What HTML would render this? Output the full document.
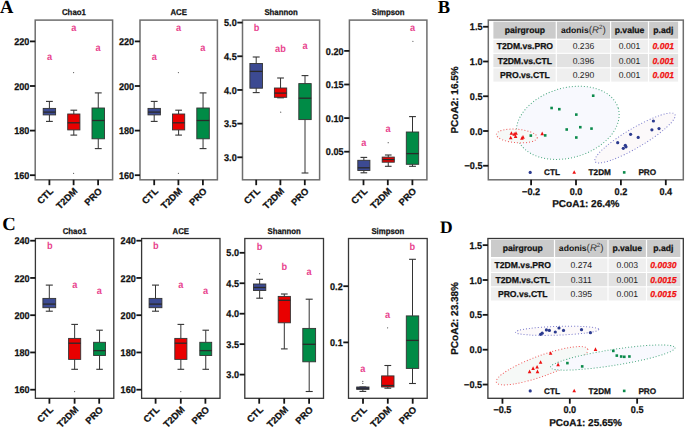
<!DOCTYPE html>
<html><head><meta charset="utf-8"><style>
html,body{margin:0;padding:0;background:#fff;width:685px;height:428px;overflow:hidden}
svg{display:block}
text{text-rendering:geometricPrecision}
</style></head><body>
<svg width="685" height="428" viewBox="0 0 685 428">
<rect width="685" height="428" fill="#fff"/>
<rect x="35.20" y="20.10" width="77.40" height="159.70" fill="none" stroke="#6e6e6e" stroke-width="1.5"/>
<text transform="translate(73.90 14.90) scale(0.93 1)" font-family="Liberation Sans" font-size="8.4" font-weight="bold" fill="#111" text-anchor="middle" stroke="#111" stroke-width="0.25" >Chao1</text>
<line x1="30.00" y1="41.40" x2="35.20" y2="41.40" stroke="#151515" stroke-width="1.8" />
<text transform="translate(29.40 45.00) scale(0.93 1)" font-family="Liberation Sans" font-size="9.8" font-weight="bold" fill="#111" text-anchor="end" stroke="#111" stroke-width="0.25" >220</text>
<line x1="30.00" y1="86.00" x2="35.20" y2="86.00" stroke="#151515" stroke-width="1.8" />
<text transform="translate(29.40 89.60) scale(0.93 1)" font-family="Liberation Sans" font-size="9.8" font-weight="bold" fill="#111" text-anchor="end" stroke="#111" stroke-width="0.25" >200</text>
<line x1="30.00" y1="130.60" x2="35.20" y2="130.60" stroke="#151515" stroke-width="1.8" />
<text transform="translate(29.40 134.20) scale(0.93 1)" font-family="Liberation Sans" font-size="9.8" font-weight="bold" fill="#111" text-anchor="end" stroke="#111" stroke-width="0.25" >180</text>
<line x1="30.00" y1="175.20" x2="35.20" y2="175.20" stroke="#151515" stroke-width="1.8" />
<text transform="translate(29.40 178.80) scale(0.93 1)" font-family="Liberation Sans" font-size="9.8" font-weight="bold" fill="#111" text-anchor="end" stroke="#111" stroke-width="0.25" >160</text>
<line x1="49.40" y1="179.80" x2="49.40" y2="185.20" stroke="#151515" stroke-width="1.8" />
<text transform="translate(53.90 191.80) rotate(-45)" font-family="Liberation Sans" font-size="9.4" font-weight="bold" fill="#111" text-anchor="end" stroke="#111" stroke-width="0.25" >CTL</text>
<line x1="73.60" y1="179.80" x2="73.60" y2="185.20" stroke="#151515" stroke-width="1.8" />
<text transform="translate(78.10 191.80) rotate(-45)" font-family="Liberation Sans" font-size="9.4" font-weight="bold" fill="#111" text-anchor="end" stroke="#111" stroke-width="0.25" >T2DM</text>
<line x1="98.10" y1="179.80" x2="98.10" y2="185.20" stroke="#151515" stroke-width="1.8" />
<text transform="translate(102.60 191.80) rotate(-45)" font-family="Liberation Sans" font-size="9.4" font-weight="bold" fill="#111" text-anchor="end" stroke="#111" stroke-width="0.25" >PRO</text>
<line x1="49.40" y1="101.40" x2="49.40" y2="108.40" stroke="#333" stroke-width="1.0" />
<line x1="49.40" y1="114.90" x2="49.40" y2="121.40" stroke="#333" stroke-width="1.0" />
<line x1="45.99" y1="101.40" x2="52.81" y2="101.40" stroke="#333" stroke-width="1.1" />
<line x1="45.99" y1="121.40" x2="52.81" y2="121.40" stroke="#333" stroke-width="1.1" />
<rect x="43.20" y="108.40" width="12.40" height="6.50" fill="#3c4a92" stroke="#333" stroke-width="0.9"/>
<line x1="43.20" y1="112.10" x2="55.60" y2="112.10" stroke="#2a2a2a" stroke-width="1.3" />
<line x1="73.80" y1="110.20" x2="73.80" y2="114.00" stroke="#333" stroke-width="1.0" />
<line x1="73.80" y1="129.90" x2="73.80" y2="135.10" stroke="#333" stroke-width="1.0" />
<line x1="70.45" y1="110.20" x2="77.16" y2="110.20" stroke="#333" stroke-width="1.1" />
<line x1="70.45" y1="135.10" x2="77.16" y2="135.10" stroke="#333" stroke-width="1.1" />
<rect x="67.70" y="114.00" width="12.20" height="15.90" fill="#e90000" stroke="#333" stroke-width="0.9"/>
<line x1="67.70" y1="122.80" x2="79.90" y2="122.80" stroke="#2a2a2a" stroke-width="1.3" />
<circle cx="73.60" cy="72.60" r="0.6" fill="#555"/>
<circle cx="73.60" cy="173.30" r="0.6" fill="#555"/>
<line x1="98.25" y1="92.90" x2="98.25" y2="108.00" stroke="#333" stroke-width="1.0" />
<line x1="98.25" y1="138.80" x2="98.25" y2="148.60" stroke="#333" stroke-width="1.0" />
<line x1="94.81" y1="92.90" x2="101.69" y2="92.90" stroke="#333" stroke-width="1.1" />
<line x1="94.81" y1="148.60" x2="101.69" y2="148.60" stroke="#333" stroke-width="1.1" />
<rect x="92.00" y="108.00" width="12.50" height="30.80" fill="#008b46" stroke="#333" stroke-width="0.9"/>
<line x1="92.00" y1="120.50" x2="104.50" y2="120.50" stroke="#2a2a2a" stroke-width="1.3" />
<text transform="translate(49.50 59.50) scale(0.9 1)" font-family="Liberation Sans" font-size="10.2" font-weight="bold" fill="#e8448e" text-anchor="middle" >a</text>
<text transform="translate(73.80 30.80) scale(0.9 1)" font-family="Liberation Sans" font-size="10.2" font-weight="bold" fill="#e8448e" text-anchor="middle" >a</text>
<text transform="translate(98.10 50.60) scale(0.9 1)" font-family="Liberation Sans" font-size="10.2" font-weight="bold" fill="#e8448e" text-anchor="middle" >a</text>
<rect x="140.00" y="20.10" width="77.40" height="159.70" fill="none" stroke="#6e6e6e" stroke-width="1.5"/>
<text transform="translate(178.70 14.90) scale(0.93 1)" font-family="Liberation Sans" font-size="8.4" font-weight="bold" fill="#111" text-anchor="middle" stroke="#111" stroke-width="0.25" >ACE</text>
<line x1="134.80" y1="41.40" x2="140.00" y2="41.40" stroke="#151515" stroke-width="1.8" />
<text transform="translate(134.20 45.00) scale(0.93 1)" font-family="Liberation Sans" font-size="9.8" font-weight="bold" fill="#111" text-anchor="end" stroke="#111" stroke-width="0.25" >220</text>
<line x1="134.80" y1="86.00" x2="140.00" y2="86.00" stroke="#151515" stroke-width="1.8" />
<text transform="translate(134.20 89.60) scale(0.93 1)" font-family="Liberation Sans" font-size="9.8" font-weight="bold" fill="#111" text-anchor="end" stroke="#111" stroke-width="0.25" >200</text>
<line x1="134.80" y1="130.60" x2="140.00" y2="130.60" stroke="#151515" stroke-width="1.8" />
<text transform="translate(134.20 134.20) scale(0.93 1)" font-family="Liberation Sans" font-size="9.8" font-weight="bold" fill="#111" text-anchor="end" stroke="#111" stroke-width="0.25" >180</text>
<line x1="134.80" y1="175.20" x2="140.00" y2="175.20" stroke="#151515" stroke-width="1.8" />
<text transform="translate(134.20 178.80) scale(0.93 1)" font-family="Liberation Sans" font-size="9.8" font-weight="bold" fill="#111" text-anchor="end" stroke="#111" stroke-width="0.25" >160</text>
<line x1="154.20" y1="179.80" x2="154.20" y2="185.20" stroke="#151515" stroke-width="1.8" />
<text transform="translate(158.70 191.80) rotate(-45)" font-family="Liberation Sans" font-size="9.4" font-weight="bold" fill="#111" text-anchor="end" stroke="#111" stroke-width="0.25" >CTL</text>
<line x1="178.40" y1="179.80" x2="178.40" y2="185.20" stroke="#151515" stroke-width="1.8" />
<text transform="translate(182.90 191.80) rotate(-45)" font-family="Liberation Sans" font-size="9.4" font-weight="bold" fill="#111" text-anchor="end" stroke="#111" stroke-width="0.25" >T2DM</text>
<line x1="202.90" y1="179.80" x2="202.90" y2="185.20" stroke="#151515" stroke-width="1.8" />
<text transform="translate(207.40 191.80) rotate(-45)" font-family="Liberation Sans" font-size="9.4" font-weight="bold" fill="#111" text-anchor="end" stroke="#111" stroke-width="0.25" >PRO</text>
<line x1="154.20" y1="101.40" x2="154.20" y2="108.40" stroke="#333" stroke-width="1.0" />
<line x1="154.20" y1="114.90" x2="154.20" y2="121.40" stroke="#333" stroke-width="1.0" />
<line x1="150.79" y1="101.40" x2="157.61" y2="101.40" stroke="#333" stroke-width="1.1" />
<line x1="150.79" y1="121.40" x2="157.61" y2="121.40" stroke="#333" stroke-width="1.1" />
<rect x="148.00" y="108.40" width="12.40" height="6.50" fill="#3c4a92" stroke="#333" stroke-width="0.9"/>
<line x1="148.00" y1="112.10" x2="160.40" y2="112.10" stroke="#2a2a2a" stroke-width="1.3" />
<line x1="178.60" y1="110.20" x2="178.60" y2="114.00" stroke="#333" stroke-width="1.0" />
<line x1="178.60" y1="129.90" x2="178.60" y2="135.10" stroke="#333" stroke-width="1.0" />
<line x1="175.25" y1="110.20" x2="181.95" y2="110.20" stroke="#333" stroke-width="1.1" />
<line x1="175.25" y1="135.10" x2="181.95" y2="135.10" stroke="#333" stroke-width="1.1" />
<rect x="172.50" y="114.00" width="12.20" height="15.90" fill="#e90000" stroke="#333" stroke-width="0.9"/>
<line x1="172.50" y1="122.80" x2="184.70" y2="122.80" stroke="#2a2a2a" stroke-width="1.3" />
<circle cx="178.40" cy="72.60" r="0.6" fill="#555"/>
<circle cx="178.40" cy="173.30" r="0.6" fill="#555"/>
<line x1="203.05" y1="92.90" x2="203.05" y2="108.00" stroke="#333" stroke-width="1.0" />
<line x1="203.05" y1="138.80" x2="203.05" y2="148.60" stroke="#333" stroke-width="1.0" />
<line x1="199.61" y1="92.90" x2="206.49" y2="92.90" stroke="#333" stroke-width="1.1" />
<line x1="199.61" y1="148.60" x2="206.49" y2="148.60" stroke="#333" stroke-width="1.1" />
<rect x="196.80" y="108.00" width="12.50" height="30.80" fill="#008b46" stroke="#333" stroke-width="0.9"/>
<line x1="196.80" y1="120.50" x2="209.30" y2="120.50" stroke="#2a2a2a" stroke-width="1.3" />
<text transform="translate(154.30 59.50) scale(0.9 1)" font-family="Liberation Sans" font-size="10.2" font-weight="bold" fill="#e8448e" text-anchor="middle" >a</text>
<text transform="translate(178.60 30.80) scale(0.9 1)" font-family="Liberation Sans" font-size="10.2" font-weight="bold" fill="#e8448e" text-anchor="middle" >a</text>
<text transform="translate(202.90 50.60) scale(0.9 1)" font-family="Liberation Sans" font-size="10.2" font-weight="bold" fill="#e8448e" text-anchor="middle" >a</text>
<rect x="242.50" y="20.10" width="77.10" height="159.70" fill="none" stroke="#6e6e6e" stroke-width="1.5"/>
<text transform="translate(281.05 14.90) scale(0.93 1)" font-family="Liberation Sans" font-size="8.4" font-weight="bold" fill="#111" text-anchor="middle" stroke="#111" stroke-width="0.25" >Shannon</text>
<line x1="237.30" y1="22.60" x2="242.50" y2="22.60" stroke="#151515" stroke-width="1.8" />
<text transform="translate(236.70 26.20) scale(0.93 1)" font-family="Liberation Sans" font-size="9.8" font-weight="bold" fill="#111" text-anchor="end" stroke="#111" stroke-width="0.25" >5.0</text>
<line x1="237.30" y1="56.27" x2="242.50" y2="56.27" stroke="#151515" stroke-width="1.8" />
<text transform="translate(236.70 59.88) scale(0.93 1)" font-family="Liberation Sans" font-size="9.8" font-weight="bold" fill="#111" text-anchor="end" stroke="#111" stroke-width="0.25" >4.5</text>
<line x1="237.30" y1="89.95" x2="242.50" y2="89.95" stroke="#151515" stroke-width="1.8" />
<text transform="translate(236.70 93.55) scale(0.93 1)" font-family="Liberation Sans" font-size="9.8" font-weight="bold" fill="#111" text-anchor="end" stroke="#111" stroke-width="0.25" >4.0</text>
<line x1="237.30" y1="123.62" x2="242.50" y2="123.62" stroke="#151515" stroke-width="1.8" />
<text transform="translate(236.70 127.22) scale(0.93 1)" font-family="Liberation Sans" font-size="9.8" font-weight="bold" fill="#111" text-anchor="end" stroke="#111" stroke-width="0.25" >3.5</text>
<line x1="237.30" y1="157.30" x2="242.50" y2="157.30" stroke="#151515" stroke-width="1.8" />
<text transform="translate(236.70 160.90) scale(0.93 1)" font-family="Liberation Sans" font-size="9.8" font-weight="bold" fill="#111" text-anchor="end" stroke="#111" stroke-width="0.25" >3.0</text>
<line x1="256.20" y1="179.80" x2="256.20" y2="185.20" stroke="#151515" stroke-width="1.8" />
<text transform="translate(260.70 191.80) rotate(-45)" font-family="Liberation Sans" font-size="9.4" font-weight="bold" fill="#111" text-anchor="end" stroke="#111" stroke-width="0.25" >CTL</text>
<line x1="280.40" y1="179.80" x2="280.40" y2="185.20" stroke="#151515" stroke-width="1.8" />
<text transform="translate(284.90 191.80) rotate(-45)" font-family="Liberation Sans" font-size="9.4" font-weight="bold" fill="#111" text-anchor="end" stroke="#111" stroke-width="0.25" >T2DM</text>
<line x1="304.80" y1="179.80" x2="304.80" y2="185.20" stroke="#151515" stroke-width="1.8" />
<text transform="translate(309.30 191.80) rotate(-45)" font-family="Liberation Sans" font-size="9.4" font-weight="bold" fill="#111" text-anchor="end" stroke="#111" stroke-width="0.25" >PRO</text>
<line x1="256.20" y1="57.00" x2="256.20" y2="63.50" stroke="#333" stroke-width="1.0" />
<line x1="256.20" y1="88.20" x2="256.20" y2="92.60" stroke="#333" stroke-width="1.0" />
<line x1="252.73" y1="57.00" x2="259.66" y2="57.00" stroke="#333" stroke-width="1.1" />
<line x1="252.73" y1="92.60" x2="259.66" y2="92.60" stroke="#333" stroke-width="1.1" />
<rect x="249.90" y="63.50" width="12.60" height="24.70" fill="#3c4a92" stroke="#333" stroke-width="0.9"/>
<line x1="249.90" y1="71.40" x2="262.50" y2="71.40" stroke="#2a2a2a" stroke-width="1.3" />
<line x1="280.55" y1="78.00" x2="280.55" y2="88.00" stroke="#333" stroke-width="1.0" />
<line x1="280.55" y1="97.30" x2="280.55" y2="97.80" stroke="#333" stroke-width="1.0" />
<line x1="277.17" y1="78.00" x2="283.93" y2="78.00" stroke="#333" stroke-width="1.1" />
<line x1="277.17" y1="97.80" x2="283.93" y2="97.80" stroke="#333" stroke-width="1.1" />
<rect x="274.40" y="88.00" width="12.30" height="9.30" fill="#e90000" stroke="#333" stroke-width="0.9"/>
<line x1="274.40" y1="93.10" x2="286.70" y2="93.10" stroke="#2a2a2a" stroke-width="1.3" />
<circle cx="280.70" cy="112.20" r="0.6" fill="#555"/>
<line x1="305.00" y1="75.60" x2="305.00" y2="83.60" stroke="#333" stroke-width="1.0" />
<line x1="305.00" y1="119.60" x2="305.00" y2="173.00" stroke="#333" stroke-width="1.0" />
<line x1="301.59" y1="75.60" x2="308.41" y2="75.60" stroke="#333" stroke-width="1.1" />
<line x1="301.59" y1="173.00" x2="308.41" y2="173.00" stroke="#333" stroke-width="1.1" />
<rect x="298.80" y="83.60" width="12.40" height="36.00" fill="#008b46" stroke="#333" stroke-width="0.9"/>
<line x1="298.80" y1="98.20" x2="311.20" y2="98.20" stroke="#2a2a2a" stroke-width="1.3" />
<text transform="translate(256.50 30.60) scale(0.9 1)" font-family="Liberation Sans" font-size="10.2" font-weight="bold" fill="#e8448e" text-anchor="middle" >b</text>
<text transform="translate(280.40 52.30) scale(0.9 1)" font-family="Liberation Sans" font-size="10.2" font-weight="bold" fill="#e8448e" text-anchor="middle" >ab</text>
<text transform="translate(305.00 49.30) scale(0.9 1)" font-family="Liberation Sans" font-size="10.2" font-weight="bold" fill="#e8448e" text-anchor="middle" >a</text>
<rect x="349.40" y="20.10" width="77.50" height="159.70" fill="none" stroke="#6e6e6e" stroke-width="1.5"/>
<text transform="translate(388.15 14.90) scale(0.93 1)" font-family="Liberation Sans" font-size="8.4" font-weight="bold" fill="#111" text-anchor="middle" stroke="#111" stroke-width="0.25" >Simpson</text>
<line x1="344.20" y1="50.90" x2="349.40" y2="50.90" stroke="#151515" stroke-width="1.8" />
<text transform="translate(343.60 54.50) scale(0.93 1)" font-family="Liberation Sans" font-size="9.8" font-weight="bold" fill="#111" text-anchor="end" stroke="#111" stroke-width="0.25" >0.20</text>
<line x1="344.20" y1="84.50" x2="349.40" y2="84.50" stroke="#151515" stroke-width="1.8" />
<text transform="translate(343.60 88.10) scale(0.93 1)" font-family="Liberation Sans" font-size="9.8" font-weight="bold" fill="#111" text-anchor="end" stroke="#111" stroke-width="0.25" >0.15</text>
<line x1="344.20" y1="118.10" x2="349.40" y2="118.10" stroke="#151515" stroke-width="1.8" />
<text transform="translate(343.60 121.70) scale(0.93 1)" font-family="Liberation Sans" font-size="9.8" font-weight="bold" fill="#111" text-anchor="end" stroke="#111" stroke-width="0.25" >0.10</text>
<line x1="344.20" y1="151.70" x2="349.40" y2="151.70" stroke="#151515" stroke-width="1.8" />
<text transform="translate(343.60 155.30) scale(0.93 1)" font-family="Liberation Sans" font-size="9.8" font-weight="bold" fill="#111" text-anchor="end" stroke="#111" stroke-width="0.25" >0.05</text>
<line x1="363.50" y1="179.80" x2="363.50" y2="185.20" stroke="#151515" stroke-width="1.8" />
<text transform="translate(368.00 191.80) rotate(-45)" font-family="Liberation Sans" font-size="9.4" font-weight="bold" fill="#111" text-anchor="end" stroke="#111" stroke-width="0.25" >CTL</text>
<line x1="387.80" y1="179.80" x2="387.80" y2="185.20" stroke="#151515" stroke-width="1.8" />
<text transform="translate(392.30 191.80) rotate(-45)" font-family="Liberation Sans" font-size="9.4" font-weight="bold" fill="#111" text-anchor="end" stroke="#111" stroke-width="0.25" >T2DM</text>
<line x1="412.40" y1="179.80" x2="412.40" y2="185.20" stroke="#151515" stroke-width="1.8" />
<text transform="translate(416.90 191.80) rotate(-45)" font-family="Liberation Sans" font-size="9.4" font-weight="bold" fill="#111" text-anchor="end" stroke="#111" stroke-width="0.25" >PRO</text>
<line x1="363.85" y1="157.40" x2="363.85" y2="160.30" stroke="#333" stroke-width="1.0" />
<line x1="363.85" y1="170.50" x2="363.85" y2="172.80" stroke="#333" stroke-width="1.0" />
<line x1="360.52" y1="157.40" x2="367.18" y2="157.40" stroke="#333" stroke-width="1.1" />
<line x1="360.52" y1="172.80" x2="367.18" y2="172.80" stroke="#333" stroke-width="1.1" />
<rect x="357.80" y="160.30" width="12.10" height="10.20" fill="#3c4a92" stroke="#333" stroke-width="0.9"/>
<line x1="357.80" y1="167.80" x2="369.90" y2="167.80" stroke="#2a2a2a" stroke-width="1.3" />
<line x1="388.25" y1="155.00" x2="388.25" y2="157.10" stroke="#333" stroke-width="1.0" />
<line x1="388.25" y1="162.20" x2="388.25" y2="166.30" stroke="#333" stroke-width="1.0" />
<line x1="384.92" y1="155.00" x2="391.58" y2="155.00" stroke="#333" stroke-width="1.1" />
<line x1="384.92" y1="166.30" x2="391.58" y2="166.30" stroke="#333" stroke-width="1.1" />
<rect x="382.20" y="157.10" width="12.10" height="5.10" fill="#e90000" stroke="#333" stroke-width="0.9"/>
<line x1="382.20" y1="159.60" x2="394.30" y2="159.60" stroke="#2a2a2a" stroke-width="1.3" />
<circle cx="388.20" cy="142.70" r="0.6" fill="#555"/>
<line x1="412.50" y1="116.60" x2="412.50" y2="132.00" stroke="#333" stroke-width="1.0" />
<line x1="412.50" y1="164.30" x2="412.50" y2="166.30" stroke="#333" stroke-width="1.0" />
<line x1="409.09" y1="116.60" x2="415.91" y2="116.60" stroke="#333" stroke-width="1.1" />
<line x1="409.09" y1="166.30" x2="415.91" y2="166.30" stroke="#333" stroke-width="1.1" />
<rect x="406.30" y="132.00" width="12.40" height="32.30" fill="#008b46" stroke="#333" stroke-width="0.9"/>
<line x1="406.30" y1="153.60" x2="418.70" y2="153.60" stroke="#2a2a2a" stroke-width="1.3" />
<circle cx="412.90" cy="41.30" r="0.6" fill="#555"/>
<text transform="translate(363.90 145.80) scale(0.9 1)" font-family="Liberation Sans" font-size="10.2" font-weight="bold" fill="#e8448e" text-anchor="middle" >a</text>
<text transform="translate(388.00 131.80) scale(0.9 1)" font-family="Liberation Sans" font-size="10.2" font-weight="bold" fill="#e8448e" text-anchor="middle" >a</text>
<text transform="translate(412.60 30.60) scale(0.9 1)" font-family="Liberation Sans" font-size="10.2" font-weight="bold" fill="#e8448e" text-anchor="middle" >a</text>
<rect x="35.40" y="238.50" width="78.40" height="159.80" fill="none" stroke="#363636" stroke-width="1.3"/>
<text transform="translate(74.60 233.80) scale(0.93 1)" font-family="Liberation Sans" font-size="8.4" font-weight="bold" fill="#111" text-anchor="middle" stroke="#111" stroke-width="0.25" >Chao1</text>
<line x1="30.20" y1="240.70" x2="35.40" y2="240.70" stroke="#151515" stroke-width="1.8" />
<text transform="translate(29.60 244.30) scale(0.93 1)" font-family="Liberation Sans" font-size="9.8" font-weight="bold" fill="#111" text-anchor="end" stroke="#111" stroke-width="0.25" >240</text>
<line x1="30.20" y1="277.95" x2="35.40" y2="277.95" stroke="#151515" stroke-width="1.8" />
<text transform="translate(29.60 281.55) scale(0.93 1)" font-family="Liberation Sans" font-size="9.8" font-weight="bold" fill="#111" text-anchor="end" stroke="#111" stroke-width="0.25" >220</text>
<line x1="30.20" y1="315.20" x2="35.40" y2="315.20" stroke="#151515" stroke-width="1.8" />
<text transform="translate(29.60 318.80) scale(0.93 1)" font-family="Liberation Sans" font-size="9.8" font-weight="bold" fill="#111" text-anchor="end" stroke="#111" stroke-width="0.25" >200</text>
<line x1="30.20" y1="352.45" x2="35.40" y2="352.45" stroke="#151515" stroke-width="1.8" />
<text transform="translate(29.60 356.05) scale(0.93 1)" font-family="Liberation Sans" font-size="9.8" font-weight="bold" fill="#111" text-anchor="end" stroke="#111" stroke-width="0.25" >180</text>
<line x1="30.20" y1="389.70" x2="35.40" y2="389.70" stroke="#151515" stroke-width="1.8" />
<text transform="translate(29.60 393.30) scale(0.93 1)" font-family="Liberation Sans" font-size="9.8" font-weight="bold" fill="#111" text-anchor="end" stroke="#111" stroke-width="0.25" >160</text>
<line x1="49.40" y1="398.30" x2="49.40" y2="403.70" stroke="#151515" stroke-width="1.8" />
<text transform="translate(53.90 410.30) rotate(-45)" font-family="Liberation Sans" font-size="9.4" font-weight="bold" fill="#111" text-anchor="end" stroke="#111" stroke-width="0.25" >CTL</text>
<line x1="74.60" y1="398.30" x2="74.60" y2="403.70" stroke="#151515" stroke-width="1.8" />
<text transform="translate(79.10 410.30) rotate(-45)" font-family="Liberation Sans" font-size="9.4" font-weight="bold" fill="#111" text-anchor="end" stroke="#111" stroke-width="0.25" >T2DM</text>
<line x1="99.20" y1="398.30" x2="99.20" y2="403.70" stroke="#151515" stroke-width="1.8" />
<text transform="translate(103.70 410.30) rotate(-45)" font-family="Liberation Sans" font-size="9.4" font-weight="bold" fill="#111" text-anchor="end" stroke="#111" stroke-width="0.25" >PRO</text>
<line x1="49.30" y1="285.10" x2="49.30" y2="298.40" stroke="#333" stroke-width="1.0" />
<line x1="49.30" y1="307.70" x2="49.30" y2="311.20" stroke="#333" stroke-width="1.0" />
<line x1="45.78" y1="285.10" x2="52.82" y2="285.10" stroke="#333" stroke-width="1.1" />
<line x1="45.78" y1="311.20" x2="52.82" y2="311.20" stroke="#333" stroke-width="1.1" />
<rect x="42.90" y="298.40" width="12.80" height="9.30" fill="#3c4a92" stroke="#333" stroke-width="0.9"/>
<line x1="42.90" y1="304.10" x2="55.70" y2="304.10" stroke="#2a2a2a" stroke-width="1.3" />
<line x1="74.65" y1="324.40" x2="74.65" y2="338.40" stroke="#333" stroke-width="1.0" />
<line x1="74.65" y1="359.40" x2="74.65" y2="369.30" stroke="#333" stroke-width="1.0" />
<line x1="71.32" y1="324.40" x2="77.98" y2="324.40" stroke="#333" stroke-width="1.1" />
<line x1="71.32" y1="369.30" x2="77.98" y2="369.30" stroke="#333" stroke-width="1.1" />
<rect x="68.60" y="338.40" width="12.10" height="21.00" fill="#e90000" stroke="#333" stroke-width="0.9"/>
<line x1="68.60" y1="343.20" x2="80.70" y2="343.20" stroke="#2a2a2a" stroke-width="1.3" />
<circle cx="74.60" cy="391.60" r="0.6" fill="#555"/>
<line x1="99.55" y1="330.20" x2="99.55" y2="342.30" stroke="#333" stroke-width="1.0" />
<line x1="99.55" y1="355.50" x2="99.55" y2="369.30" stroke="#333" stroke-width="1.0" />
<line x1="96.28" y1="330.20" x2="102.82" y2="330.20" stroke="#333" stroke-width="1.1" />
<line x1="96.28" y1="369.30" x2="102.82" y2="369.30" stroke="#333" stroke-width="1.1" />
<rect x="93.60" y="342.30" width="11.90" height="13.20" fill="#008b46" stroke="#333" stroke-width="0.9"/>
<line x1="93.60" y1="350.60" x2="105.50" y2="350.60" stroke="#2a2a2a" stroke-width="1.3" />
<text transform="translate(49.70 249.00) scale(0.9 1)" font-family="Liberation Sans" font-size="10.2" font-weight="bold" fill="#e8448e" text-anchor="middle" >b</text>
<text transform="translate(74.70 288.30) scale(0.9 1)" font-family="Liberation Sans" font-size="10.2" font-weight="bold" fill="#e8448e" text-anchor="middle" >a</text>
<text transform="translate(99.40 293.80) scale(0.9 1)" font-family="Liberation Sans" font-size="10.2" font-weight="bold" fill="#e8448e" text-anchor="middle" >a</text>
<rect x="141.60" y="238.50" width="78.40" height="159.80" fill="none" stroke="#363636" stroke-width="1.3"/>
<text transform="translate(180.80 233.80) scale(0.93 1)" font-family="Liberation Sans" font-size="8.4" font-weight="bold" fill="#111" text-anchor="middle" stroke="#111" stroke-width="0.25" >ACE</text>
<line x1="136.40" y1="240.70" x2="141.60" y2="240.70" stroke="#151515" stroke-width="1.8" />
<text transform="translate(135.80 244.30) scale(0.93 1)" font-family="Liberation Sans" font-size="9.8" font-weight="bold" fill="#111" text-anchor="end" stroke="#111" stroke-width="0.25" >240</text>
<line x1="136.40" y1="277.95" x2="141.60" y2="277.95" stroke="#151515" stroke-width="1.8" />
<text transform="translate(135.80 281.55) scale(0.93 1)" font-family="Liberation Sans" font-size="9.8" font-weight="bold" fill="#111" text-anchor="end" stroke="#111" stroke-width="0.25" >220</text>
<line x1="136.40" y1="315.20" x2="141.60" y2="315.20" stroke="#151515" stroke-width="1.8" />
<text transform="translate(135.80 318.80) scale(0.93 1)" font-family="Liberation Sans" font-size="9.8" font-weight="bold" fill="#111" text-anchor="end" stroke="#111" stroke-width="0.25" >200</text>
<line x1="136.40" y1="352.45" x2="141.60" y2="352.45" stroke="#151515" stroke-width="1.8" />
<text transform="translate(135.80 356.05) scale(0.93 1)" font-family="Liberation Sans" font-size="9.8" font-weight="bold" fill="#111" text-anchor="end" stroke="#111" stroke-width="0.25" >180</text>
<line x1="136.40" y1="389.70" x2="141.60" y2="389.70" stroke="#151515" stroke-width="1.8" />
<text transform="translate(135.80 393.30) scale(0.93 1)" font-family="Liberation Sans" font-size="9.8" font-weight="bold" fill="#111" text-anchor="end" stroke="#111" stroke-width="0.25" >160</text>
<line x1="155.60" y1="398.30" x2="155.60" y2="403.70" stroke="#151515" stroke-width="1.8" />
<text transform="translate(160.10 410.30) rotate(-45)" font-family="Liberation Sans" font-size="9.4" font-weight="bold" fill="#111" text-anchor="end" stroke="#111" stroke-width="0.25" >CTL</text>
<line x1="180.80" y1="398.30" x2="180.80" y2="403.70" stroke="#151515" stroke-width="1.8" />
<text transform="translate(185.30 410.30) rotate(-45)" font-family="Liberation Sans" font-size="9.4" font-weight="bold" fill="#111" text-anchor="end" stroke="#111" stroke-width="0.25" >T2DM</text>
<line x1="205.40" y1="398.30" x2="205.40" y2="403.70" stroke="#151515" stroke-width="1.8" />
<text transform="translate(209.90 410.30) rotate(-45)" font-family="Liberation Sans" font-size="9.4" font-weight="bold" fill="#111" text-anchor="end" stroke="#111" stroke-width="0.25" >PRO</text>
<line x1="155.50" y1="285.10" x2="155.50" y2="298.40" stroke="#333" stroke-width="1.0" />
<line x1="155.50" y1="307.70" x2="155.50" y2="311.20" stroke="#333" stroke-width="1.0" />
<line x1="151.98" y1="285.10" x2="159.02" y2="285.10" stroke="#333" stroke-width="1.1" />
<line x1="151.98" y1="311.20" x2="159.02" y2="311.20" stroke="#333" stroke-width="1.1" />
<rect x="149.10" y="298.40" width="12.80" height="9.30" fill="#3c4a92" stroke="#333" stroke-width="0.9"/>
<line x1="149.10" y1="304.10" x2="161.90" y2="304.10" stroke="#2a2a2a" stroke-width="1.3" />
<line x1="180.85" y1="324.40" x2="180.85" y2="338.40" stroke="#333" stroke-width="1.0" />
<line x1="180.85" y1="359.40" x2="180.85" y2="369.30" stroke="#333" stroke-width="1.0" />
<line x1="177.52" y1="324.40" x2="184.18" y2="324.40" stroke="#333" stroke-width="1.1" />
<line x1="177.52" y1="369.30" x2="184.18" y2="369.30" stroke="#333" stroke-width="1.1" />
<rect x="174.80" y="338.40" width="12.10" height="21.00" fill="#e90000" stroke="#333" stroke-width="0.9"/>
<line x1="174.80" y1="343.20" x2="186.90" y2="343.20" stroke="#2a2a2a" stroke-width="1.3" />
<circle cx="180.80" cy="391.60" r="0.6" fill="#555"/>
<line x1="205.75" y1="330.20" x2="205.75" y2="342.30" stroke="#333" stroke-width="1.0" />
<line x1="205.75" y1="355.50" x2="205.75" y2="369.30" stroke="#333" stroke-width="1.0" />
<line x1="202.48" y1="330.20" x2="209.02" y2="330.20" stroke="#333" stroke-width="1.1" />
<line x1="202.48" y1="369.30" x2="209.02" y2="369.30" stroke="#333" stroke-width="1.1" />
<rect x="199.80" y="342.30" width="11.90" height="13.20" fill="#008b46" stroke="#333" stroke-width="0.9"/>
<line x1="199.80" y1="350.60" x2="211.70" y2="350.60" stroke="#2a2a2a" stroke-width="1.3" />
<text transform="translate(155.90 249.00) scale(0.9 1)" font-family="Liberation Sans" font-size="10.2" font-weight="bold" fill="#e8448e" text-anchor="middle" >b</text>
<text transform="translate(180.90 288.30) scale(0.9 1)" font-family="Liberation Sans" font-size="10.2" font-weight="bold" fill="#e8448e" text-anchor="middle" >a</text>
<text transform="translate(205.60 293.80) scale(0.9 1)" font-family="Liberation Sans" font-size="10.2" font-weight="bold" fill="#e8448e" text-anchor="middle" >a</text>
<rect x="244.80" y="238.50" width="78.70" height="159.80" fill="none" stroke="#363636" stroke-width="1.3"/>
<text transform="translate(284.15 233.80) scale(0.93 1)" font-family="Liberation Sans" font-size="8.4" font-weight="bold" fill="#111" text-anchor="middle" stroke="#111" stroke-width="0.25" >Shannon</text>
<line x1="239.60" y1="252.80" x2="244.80" y2="252.80" stroke="#151515" stroke-width="1.8" />
<text transform="translate(239.00 256.40) scale(0.93 1)" font-family="Liberation Sans" font-size="9.8" font-weight="bold" fill="#111" text-anchor="end" stroke="#111" stroke-width="0.25" >5.0</text>
<line x1="239.60" y1="283.25" x2="244.80" y2="283.25" stroke="#151515" stroke-width="1.8" />
<text transform="translate(239.00 286.85) scale(0.93 1)" font-family="Liberation Sans" font-size="9.8" font-weight="bold" fill="#111" text-anchor="end" stroke="#111" stroke-width="0.25" >4.5</text>
<line x1="239.60" y1="313.70" x2="244.80" y2="313.70" stroke="#151515" stroke-width="1.8" />
<text transform="translate(239.00 317.30) scale(0.93 1)" font-family="Liberation Sans" font-size="9.8" font-weight="bold" fill="#111" text-anchor="end" stroke="#111" stroke-width="0.25" >4.0</text>
<line x1="239.60" y1="344.15" x2="244.80" y2="344.15" stroke="#151515" stroke-width="1.8" />
<text transform="translate(239.00 347.75) scale(0.93 1)" font-family="Liberation Sans" font-size="9.8" font-weight="bold" fill="#111" text-anchor="end" stroke="#111" stroke-width="0.25" >3.5</text>
<line x1="239.60" y1="374.60" x2="244.80" y2="374.60" stroke="#151515" stroke-width="1.8" />
<text transform="translate(239.00 378.20) scale(0.93 1)" font-family="Liberation Sans" font-size="9.8" font-weight="bold" fill="#111" text-anchor="end" stroke="#111" stroke-width="0.25" >3.0</text>
<line x1="259.20" y1="398.30" x2="259.20" y2="403.70" stroke="#151515" stroke-width="1.8" />
<text transform="translate(263.70 410.30) rotate(-45)" font-family="Liberation Sans" font-size="9.4" font-weight="bold" fill="#111" text-anchor="end" stroke="#111" stroke-width="0.25" >CTL</text>
<line x1="284.20" y1="398.30" x2="284.20" y2="403.70" stroke="#151515" stroke-width="1.8" />
<text transform="translate(288.70 410.30) rotate(-45)" font-family="Liberation Sans" font-size="9.4" font-weight="bold" fill="#111" text-anchor="end" stroke="#111" stroke-width="0.25" >T2DM</text>
<line x1="309.10" y1="398.30" x2="309.10" y2="403.70" stroke="#151515" stroke-width="1.8" />
<text transform="translate(313.60 410.30) rotate(-45)" font-family="Liberation Sans" font-size="9.4" font-weight="bold" fill="#111" text-anchor="end" stroke="#111" stroke-width="0.25" >PRO</text>
<line x1="259.65" y1="279.30" x2="259.65" y2="284.00" stroke="#333" stroke-width="1.0" />
<line x1="259.65" y1="290.50" x2="259.65" y2="298.20" stroke="#333" stroke-width="1.0" />
<line x1="256.27" y1="279.30" x2="263.03" y2="279.30" stroke="#333" stroke-width="1.1" />
<line x1="256.27" y1="298.20" x2="263.03" y2="298.20" stroke="#333" stroke-width="1.1" />
<rect x="253.50" y="284.00" width="12.30" height="6.50" fill="#3c4a92" stroke="#333" stroke-width="0.9"/>
<line x1="253.50" y1="287.50" x2="265.80" y2="287.50" stroke="#2a2a2a" stroke-width="1.3" />
<circle cx="259.60" cy="273.70" r="0.6" fill="#555"/>
<line x1="284.30" y1="294.00" x2="284.30" y2="296.40" stroke="#333" stroke-width="1.0" />
<line x1="284.30" y1="322.80" x2="284.30" y2="348.90" stroke="#333" stroke-width="1.0" />
<line x1="280.94" y1="294.00" x2="287.65" y2="294.00" stroke="#333" stroke-width="1.1" />
<line x1="280.94" y1="348.90" x2="287.65" y2="348.90" stroke="#333" stroke-width="1.1" />
<rect x="278.20" y="296.40" width="12.20" height="26.40" fill="#e90000" stroke="#333" stroke-width="0.9"/>
<line x1="278.20" y1="300.30" x2="290.40" y2="300.30" stroke="#2a2a2a" stroke-width="1.3" />
<line x1="309.20" y1="299.20" x2="309.20" y2="328.40" stroke="#333" stroke-width="1.0" />
<line x1="309.20" y1="361.80" x2="309.20" y2="391.50" stroke="#333" stroke-width="1.0" />
<line x1="305.68" y1="299.20" x2="312.72" y2="299.20" stroke="#333" stroke-width="1.1" />
<line x1="305.68" y1="391.50" x2="312.72" y2="391.50" stroke="#333" stroke-width="1.1" />
<rect x="302.80" y="328.40" width="12.80" height="33.40" fill="#008b46" stroke="#333" stroke-width="0.9"/>
<line x1="302.80" y1="344.30" x2="315.60" y2="344.30" stroke="#2a2a2a" stroke-width="1.3" />
<text transform="translate(259.50 249.60) scale(0.9 1)" font-family="Liberation Sans" font-size="10.2" font-weight="bold" fill="#e8448e" text-anchor="middle" >b</text>
<text transform="translate(284.20 269.70) scale(0.9 1)" font-family="Liberation Sans" font-size="10.2" font-weight="bold" fill="#e8448e" text-anchor="middle" >b</text>
<text transform="translate(309.00 274.50) scale(0.9 1)" font-family="Liberation Sans" font-size="10.2" font-weight="bold" fill="#e8448e" text-anchor="middle" >a</text>
<rect x="348.50" y="238.50" width="78.70" height="159.80" fill="none" stroke="#363636" stroke-width="1.3"/>
<text transform="translate(387.85 233.80) scale(0.93 1)" font-family="Liberation Sans" font-size="8.4" font-weight="bold" fill="#111" text-anchor="middle" stroke="#111" stroke-width="0.25" >Simpson</text>
<line x1="343.30" y1="286.20" x2="348.50" y2="286.20" stroke="#151515" stroke-width="1.8" />
<text transform="translate(342.70 289.80) scale(0.93 1)" font-family="Liberation Sans" font-size="9.8" font-weight="bold" fill="#111" text-anchor="end" stroke="#111" stroke-width="0.25" >0.2</text>
<line x1="343.30" y1="342.40" x2="348.50" y2="342.40" stroke="#151515" stroke-width="1.8" />
<text transform="translate(342.70 346.00) scale(0.93 1)" font-family="Liberation Sans" font-size="9.8" font-weight="bold" fill="#111" text-anchor="end" stroke="#111" stroke-width="0.25" >0.1</text>
<line x1="363.00" y1="398.30" x2="363.00" y2="403.70" stroke="#151515" stroke-width="1.8" />
<text transform="translate(367.50 410.30) rotate(-45)" font-family="Liberation Sans" font-size="9.4" font-weight="bold" fill="#111" text-anchor="end" stroke="#111" stroke-width="0.25" >CTL</text>
<line x1="387.80" y1="398.30" x2="387.80" y2="403.70" stroke="#151515" stroke-width="1.8" />
<text transform="translate(392.30 410.30) rotate(-45)" font-family="Liberation Sans" font-size="9.4" font-weight="bold" fill="#111" text-anchor="end" stroke="#111" stroke-width="0.25" >T2DM</text>
<line x1="412.70" y1="398.30" x2="412.70" y2="403.70" stroke="#151515" stroke-width="1.8" />
<text transform="translate(417.20 410.30) rotate(-45)" font-family="Liberation Sans" font-size="9.4" font-weight="bold" fill="#111" text-anchor="end" stroke="#111" stroke-width="0.25" >PRO</text>
<line x1="362.85" y1="387.00" x2="362.85" y2="387.00" stroke="#333" stroke-width="1.0" />
<line x1="362.85" y1="389.40" x2="362.85" y2="391.40" stroke="#333" stroke-width="1.0" />
<line x1="359.47" y1="387.00" x2="366.23" y2="387.00" stroke="#333" stroke-width="1.1" />
<line x1="359.47" y1="391.40" x2="366.23" y2="391.40" stroke="#333" stroke-width="1.1" />
<rect x="356.70" y="387.00" width="12.30" height="2.40" fill="#3c4a92" stroke="#333" stroke-width="0.9"/>
<line x1="356.70" y1="388.20" x2="369.00" y2="388.20" stroke="#2a2a2a" stroke-width="1.3" />
<circle cx="362.80" cy="381.40" r="0.6" fill="#555"/>
<circle cx="362.80" cy="383.40" r="0.6" fill="#555"/>
<line x1="387.80" y1="365.50" x2="387.80" y2="375.90" stroke="#333" stroke-width="1.0" />
<line x1="387.80" y1="387.00" x2="387.80" y2="388.20" stroke="#333" stroke-width="1.0" />
<line x1="384.39" y1="365.50" x2="391.21" y2="365.50" stroke="#333" stroke-width="1.1" />
<line x1="384.39" y1="388.20" x2="391.21" y2="388.20" stroke="#333" stroke-width="1.1" />
<rect x="381.60" y="375.90" width="12.40" height="11.10" fill="#e90000" stroke="#333" stroke-width="0.9"/>
<line x1="381.60" y1="385.50" x2="394.00" y2="385.50" stroke="#2a2a2a" stroke-width="1.3" />
<circle cx="387.60" cy="327.80" r="0.6" fill="#555"/>
<line x1="412.50" y1="259.30" x2="412.50" y2="315.90" stroke="#333" stroke-width="1.0" />
<line x1="412.50" y1="368.40" x2="412.50" y2="383.50" stroke="#333" stroke-width="1.0" />
<line x1="409.09" y1="259.30" x2="415.91" y2="259.30" stroke="#333" stroke-width="1.1" />
<line x1="409.09" y1="383.50" x2="415.91" y2="383.50" stroke="#333" stroke-width="1.1" />
<rect x="406.30" y="315.90" width="12.40" height="52.50" fill="#008b46" stroke="#333" stroke-width="0.9"/>
<line x1="406.30" y1="340.40" x2="418.70" y2="340.40" stroke="#2a2a2a" stroke-width="1.3" />
<text transform="translate(362.80 371.80) scale(0.9 1)" font-family="Liberation Sans" font-size="10.2" font-weight="bold" fill="#e8448e" text-anchor="middle" >a</text>
<text transform="translate(387.60 317.80) scale(0.9 1)" font-family="Liberation Sans" font-size="10.2" font-weight="bold" fill="#e8448e" text-anchor="middle" >a</text>
<text transform="translate(412.40 249.70) scale(0.9 1)" font-family="Liberation Sans" font-size="10.2" font-weight="bold" fill="#e8448e" text-anchor="middle" >b</text>
<text transform="translate(0.10 13.00)" font-family="Liberation Serif" font-size="18.5" font-weight="bold" fill="#000" text-anchor="start" >A</text>
<text transform="translate(437.80 13.00)" font-family="Liberation Serif" font-size="18.5" font-weight="bold" fill="#000" text-anchor="start" >B</text>
<text transform="translate(2.30 229.50)" font-family="Liberation Serif" font-size="18.7" font-weight="bold" fill="#000" text-anchor="start" >C</text>
<text transform="translate(440.00 232.90)" font-family="Liberation Serif" font-size="17.5" font-weight="bold" fill="#000" text-anchor="start" >D</text>
<rect x="488.30" y="20.10" width="195.00" height="159.70" fill="none" stroke="#6e6e6e" stroke-width="1.5"/>
<line x1="483.10" y1="26.75" x2="488.30" y2="26.75" stroke="#151515" stroke-width="1.8" />
<text transform="translate(482.50 30.35) scale(0.93 1)" font-family="Liberation Sans" font-size="9.8" font-weight="bold" fill="#111" text-anchor="end" stroke="#111" stroke-width="0.25" >1.5</text>
<line x1="483.10" y1="61.50" x2="488.30" y2="61.50" stroke="#151515" stroke-width="1.8" />
<text transform="translate(482.50 65.10) scale(0.93 1)" font-family="Liberation Sans" font-size="9.8" font-weight="bold" fill="#111" text-anchor="end" stroke="#111" stroke-width="0.25" >1.0</text>
<line x1="483.10" y1="96.25" x2="488.30" y2="96.25" stroke="#151515" stroke-width="1.8" />
<text transform="translate(482.50 99.85) scale(0.93 1)" font-family="Liberation Sans" font-size="9.8" font-weight="bold" fill="#111" text-anchor="end" stroke="#111" stroke-width="0.25" >0.5</text>
<line x1="483.10" y1="131.00" x2="488.30" y2="131.00" stroke="#151515" stroke-width="1.8" />
<text transform="translate(482.50 134.60) scale(0.93 1)" font-family="Liberation Sans" font-size="9.8" font-weight="bold" fill="#111" text-anchor="end" stroke="#111" stroke-width="0.25" >0.0</text>
<line x1="483.10" y1="165.75" x2="488.30" y2="165.75" stroke="#151515" stroke-width="1.8" />
<text transform="translate(482.50 169.35) scale(0.93 1)" font-family="Liberation Sans" font-size="9.8" font-weight="bold" fill="#111" text-anchor="end" stroke="#111" stroke-width="0.25" >&#8722;0.5</text>
<line x1="531.10" y1="179.80" x2="531.10" y2="185.20" stroke="#151515" stroke-width="1.8" />
<text transform="translate(531.10 194.60) scale(0.93 1)" font-family="Liberation Sans" font-size="9.8" font-weight="bold" fill="#111" text-anchor="middle" stroke="#111" stroke-width="0.25" >&#8722;0.2</text>
<line x1="576.00" y1="179.80" x2="576.00" y2="185.20" stroke="#151515" stroke-width="1.8" />
<text transform="translate(576.00 194.60) scale(0.93 1)" font-family="Liberation Sans" font-size="9.8" font-weight="bold" fill="#111" text-anchor="middle" stroke="#111" stroke-width="0.25" >0.0</text>
<line x1="620.90" y1="179.80" x2="620.90" y2="185.20" stroke="#151515" stroke-width="1.8" />
<text transform="translate(620.90 194.60) scale(0.93 1)" font-family="Liberation Sans" font-size="9.8" font-weight="bold" fill="#111" text-anchor="middle" stroke="#111" stroke-width="0.25" >0.2</text>
<line x1="665.80" y1="179.80" x2="665.80" y2="185.20" stroke="#151515" stroke-width="1.8" />
<text transform="translate(665.80 194.60) scale(0.93 1)" font-family="Liberation Sans" font-size="9.8" font-weight="bold" fill="#111" text-anchor="middle" stroke="#111" stroke-width="0.25" >0.4</text>
<ellipse cx="567.75" cy="122.84" rx="52.58" ry="34.89" transform="rotate(-16.23 567.75 122.84)" fill="#f8f9fe" stroke="#4aa880" stroke-width="1" stroke-dasharray="1 2"/>
<ellipse cx="516.82" cy="135.97" rx="20.49" ry="6.74" transform="rotate(4.53 516.82 135.97)" fill="#f6f9f7" stroke="#f05a5a" stroke-width="1" stroke-dasharray="1 2"/>
<ellipse cx="635.01" cy="137.99" rx="46.33" ry="9.65" transform="rotate(-30.54 635.01 137.99)" fill="#fcf9fa" stroke="#7a7acc" stroke-width="1" stroke-dasharray="1 2"/>
<polygon points="511.40,131.14 513.20,134.74 509.60,134.74" fill="#ee1111"/>
<polygon points="514.20,132.04 516.00,135.64 512.40,135.64" fill="#ee1111"/>
<polygon points="516.00,131.14 517.80,134.74 514.20,134.74" fill="#ee1111"/>
<polygon points="515.60,134.34 517.40,137.94 513.80,137.94" fill="#ee1111"/>
<polygon points="510.70,135.74 512.50,139.34 508.90,139.34" fill="#ee1111"/>
<polygon points="521.90,136.24 523.70,139.84 520.10,139.84" fill="#ee1111"/>
<polygon points="523.00,135.04 524.80,138.64 521.20,138.64" fill="#ee1111"/>
<polygon points="542.20,131.54 544.00,135.14 540.40,135.14" fill="#ee1111"/>
<rect x="529.50" y="134.30" width="2.6" height="2.6" fill="#0b8a4b"/>
<rect x="543.90" y="134.10" width="2.6" height="2.6" fill="#0b8a4b"/>
<rect x="550.30" y="106.70" width="2.6" height="2.6" fill="#0b8a4b"/>
<rect x="558.00" y="107.90" width="2.6" height="2.6" fill="#0b8a4b"/>
<rect x="565.40" y="128.20" width="2.6" height="2.6" fill="#0b8a4b"/>
<rect x="575.00" y="113.30" width="2.6" height="2.6" fill="#0b8a4b"/>
<rect x="579.00" y="125.90" width="2.6" height="2.6" fill="#0b8a4b"/>
<rect x="575.00" y="136.20" width="2.6" height="2.6" fill="#0b8a4b"/>
<rect x="591.90" y="94.40" width="2.6" height="2.6" fill="#0b8a4b"/>
<rect x="590.20" y="127.30" width="2.6" height="2.6" fill="#0b8a4b"/>
<circle cx="653.40" cy="121.00" r="1.6" fill="#2b3a8f"/>
<circle cx="651.90" cy="129.80" r="1.6" fill="#2b3a8f"/>
<circle cx="659.00" cy="128.60" r="1.6" fill="#2b3a8f"/>
<circle cx="630.60" cy="134.30" r="1.6" fill="#2b3a8f"/>
<circle cx="638.20" cy="137.40" r="1.6" fill="#2b3a8f"/>
<circle cx="617.70" cy="142.70" r="1.6" fill="#2b3a8f"/>
<circle cx="625.30" cy="145.30" r="1.6" fill="#2b3a8f"/>
<circle cx="626.00" cy="146.80" r="1.6" fill="#2b3a8f"/>
<circle cx="623.30" cy="148.30" r="1.6" fill="#2b3a8f"/>
<rect x="493.40" y="21.70" width="62.30" height="16.90" fill="#cbcbcb"/>
<rect x="556.90" y="21.70" width="53.10" height="16.90" fill="#cbcbcb"/>
<rect x="611.20" y="21.70" width="36.70" height="16.90" fill="#cbcbcb"/>
<rect x="649.10" y="21.70" width="29.00" height="16.90" fill="#cbcbcb"/>
<rect x="493.40" y="39.80" width="62.30" height="13.00" fill="#efefef"/>
<rect x="556.90" y="39.80" width="53.10" height="13.00" fill="#efefef"/>
<rect x="611.20" y="39.80" width="36.70" height="13.00" fill="#efefef"/>
<rect x="649.10" y="39.80" width="29.00" height="13.00" fill="#efefef"/>
<rect x="493.40" y="53.90" width="62.30" height="13.30" fill="#e2e2e2"/>
<rect x="556.90" y="53.90" width="53.10" height="13.30" fill="#e2e2e2"/>
<rect x="611.20" y="53.90" width="36.70" height="13.30" fill="#e2e2e2"/>
<rect x="649.10" y="53.90" width="29.00" height="13.30" fill="#e2e2e2"/>
<rect x="493.40" y="68.40" width="62.30" height="13.20" fill="#efefef"/>
<rect x="556.90" y="68.40" width="53.10" height="13.20" fill="#efefef"/>
<rect x="611.20" y="68.40" width="36.70" height="13.20" fill="#efefef"/>
<rect x="649.10" y="68.40" width="29.00" height="13.20" fill="#efefef"/>
<text transform="translate(524.85 33.15)" font-family="Liberation Sans" font-size="8.6" font-weight="bold" fill="#111" text-anchor="middle" stroke="#111" stroke-width="0.25" >pairgroup</text>
<text x="583.45" y="33.15" font-family="Liberation Sans" font-size="8.6" text-anchor="middle" fill="#111"><tspan font-weight="bold">adonis</tspan><tspan fill="#333" font-size="10">(</tspan><tspan font-style="italic" fill="#333" font-size="9.6">R</tspan><tspan font-size="6.2" dy="-4" fill="#333">2</tspan><tspan dy="4" fill="#333" font-size="10">)</tspan></text>
<text transform="translate(629.55 33.15)" font-family="Liberation Sans" font-size="8.6" font-weight="bold" fill="#111" text-anchor="middle" stroke="#111" stroke-width="0.25" >p.value</text>
<text transform="translate(663.30 33.15)" font-family="Liberation Sans" font-size="8.6" font-weight="bold" fill="#111" text-anchor="middle" stroke="#111" stroke-width="0.25" >p.adj</text>
<text transform="translate(524.85 49.30)" font-family="Liberation Sans" font-size="8.6" font-weight="bold" fill="#111" text-anchor="middle" stroke="#111" stroke-width="0.25" >T2DM.vs.PRO</text>
<text transform="translate(583.45 49.30)" font-family="Liberation Sans" font-size="8.6" font-weight="normal" fill="#222" text-anchor="middle" >0.236</text>
<text transform="translate(629.55 49.30)" font-family="Liberation Sans" font-size="8.6" font-weight="normal" fill="#222" text-anchor="middle" >0.001</text>
<text transform="translate(663.30 49.30)" font-family="Liberation Sans" font-size="8.6" font-weight="bold" fill="#f01010" text-anchor="middle" stroke="#f01010" stroke-width="0.25" font-style="italic">0.001</text>
<text transform="translate(524.85 63.55)" font-family="Liberation Sans" font-size="8.6" font-weight="bold" fill="#111" text-anchor="middle" stroke="#111" stroke-width="0.25" >T2DM.vs.CTL</text>
<text transform="translate(583.45 63.55)" font-family="Liberation Sans" font-size="8.6" font-weight="normal" fill="#222" text-anchor="middle" >0.396</text>
<text transform="translate(629.55 63.55)" font-family="Liberation Sans" font-size="8.6" font-weight="normal" fill="#222" text-anchor="middle" >0.001</text>
<text transform="translate(663.30 63.55)" font-family="Liberation Sans" font-size="8.6" font-weight="bold" fill="#f01010" text-anchor="middle" stroke="#f01010" stroke-width="0.25" font-style="italic">0.001</text>
<text transform="translate(524.85 78.00)" font-family="Liberation Sans" font-size="8.6" font-weight="bold" fill="#111" text-anchor="middle" stroke="#111" stroke-width="0.25" >PRO.vs.CTL</text>
<text transform="translate(583.45 78.00)" font-family="Liberation Sans" font-size="8.6" font-weight="normal" fill="#222" text-anchor="middle" >0.290</text>
<text transform="translate(629.55 78.00)" font-family="Liberation Sans" font-size="8.6" font-weight="normal" fill="#222" text-anchor="middle" >0.001</text>
<text transform="translate(663.30 78.00)" font-family="Liberation Sans" font-size="8.6" font-weight="bold" fill="#f01010" text-anchor="middle" stroke="#f01010" stroke-width="0.25" font-style="italic">0.001</text>
<text transform="translate(585.80 207.30)" font-family="Liberation Sans" font-size="10" font-weight="bold" fill="#111" text-anchor="middle" stroke="#111" stroke-width="0.25" >PCoA1: 26.4%</text>
<text transform="translate(457.60 99.95) rotate(-90)" font-family="Liberation Sans" font-size="10" font-weight="bold" fill="#111" text-anchor="middle" stroke="#111" stroke-width="0.25" >PCoA2: 16.5%</text>
<circle cx="530.20" cy="172.40" r="1.6" fill="#2b3a8f"/>
<text transform="translate(544.00 175.20)" font-family="Liberation Sans" font-size="8.2" font-weight="bold" fill="#111" text-anchor="start" stroke="#111" stroke-width="0.25" >CTL</text>
<polygon points="574.20,170.24 576.00,173.84 572.40,173.84" fill="#ee1111"/>
<text transform="translate(588.60 175.20)" font-family="Liberation Sans" font-size="8.2" font-weight="bold" fill="#111" text-anchor="start" stroke="#111" stroke-width="0.25" >T2DM</text>
<rect x="622.90" y="171.10" width="2.6" height="2.6" fill="#0b8a4b"/>
<text transform="translate(638.40 175.20)" font-family="Liberation Sans" font-size="8.2" font-weight="bold" fill="#111" text-anchor="start" stroke="#111" stroke-width="0.25" >PRO</text>
<rect x="487.90" y="238.50" width="195.40" height="159.80" fill="none" stroke="#363636" stroke-width="1.3"/>
<line x1="482.70" y1="245.15" x2="487.90" y2="245.15" stroke="#151515" stroke-width="1.8" />
<text transform="translate(482.10 248.75) scale(0.93 1)" font-family="Liberation Sans" font-size="9.8" font-weight="bold" fill="#111" text-anchor="end" stroke="#111" stroke-width="0.25" >1.5</text>
<line x1="482.70" y1="280.00" x2="487.90" y2="280.00" stroke="#151515" stroke-width="1.8" />
<text transform="translate(482.10 283.60) scale(0.93 1)" font-family="Liberation Sans" font-size="9.8" font-weight="bold" fill="#111" text-anchor="end" stroke="#111" stroke-width="0.25" >1.0</text>
<line x1="482.70" y1="314.85" x2="487.90" y2="314.85" stroke="#151515" stroke-width="1.8" />
<text transform="translate(482.10 318.45) scale(0.93 1)" font-family="Liberation Sans" font-size="9.8" font-weight="bold" fill="#111" text-anchor="end" stroke="#111" stroke-width="0.25" >0.5</text>
<line x1="482.70" y1="349.70" x2="487.90" y2="349.70" stroke="#151515" stroke-width="1.8" />
<text transform="translate(482.10 353.30) scale(0.93 1)" font-family="Liberation Sans" font-size="9.8" font-weight="bold" fill="#111" text-anchor="end" stroke="#111" stroke-width="0.25" >0.0</text>
<line x1="482.70" y1="384.55" x2="487.90" y2="384.55" stroke="#151515" stroke-width="1.8" />
<text transform="translate(482.10 388.15) scale(0.93 1)" font-family="Liberation Sans" font-size="9.8" font-weight="bold" fill="#111" text-anchor="end" stroke="#111" stroke-width="0.25" >&#8722;0.5</text>
<line x1="502.45" y1="398.30" x2="502.45" y2="403.70" stroke="#151515" stroke-width="1.8" />
<text transform="translate(502.45 413.10) scale(0.93 1)" font-family="Liberation Sans" font-size="9.8" font-weight="bold" fill="#111" text-anchor="middle" stroke="#111" stroke-width="0.25" >&#8722;0.5</text>
<line x1="569.80" y1="398.30" x2="569.80" y2="403.70" stroke="#151515" stroke-width="1.8" />
<text transform="translate(569.80 413.10) scale(0.93 1)" font-family="Liberation Sans" font-size="9.8" font-weight="bold" fill="#111" text-anchor="middle" stroke="#111" stroke-width="0.25" >0.0</text>
<line x1="637.15" y1="398.30" x2="637.15" y2="403.70" stroke="#151515" stroke-width="1.8" />
<text transform="translate(637.15 413.10) scale(0.93 1)" font-family="Liberation Sans" font-size="9.8" font-weight="bold" fill="#111" text-anchor="middle" stroke="#111" stroke-width="0.25" >0.5</text>
<ellipse cx="557.15" cy="330.79" rx="41.67" ry="4.37" transform="rotate(-1.94 557.15 330.79)" fill="#fcf9fa" stroke="#7a7acc" stroke-width="1" stroke-dasharray="1 2"/>
<ellipse cx="542.06" cy="365.74" rx="48.60" ry="10.30" transform="rotate(-19.95 542.06 365.74)" fill="#f6f9f7" stroke="#f05a5a" stroke-width="1" stroke-dasharray="1 2"/>
<ellipse cx="612.76" cy="357.55" rx="63.00" ry="7.94" transform="rotate(-9.0 612.76 357.55)" fill="#f8f9fe" stroke="#4aa880" stroke-width="1" stroke-dasharray="1 2"/>
<polygon points="550.60,351.14 552.40,354.74 548.80,354.74" fill="#ee1111"/>
<polygon points="540.60,360.24 542.40,363.84 538.80,363.84" fill="#ee1111"/>
<polygon points="537.10,364.94 538.90,368.54 535.30,368.54" fill="#ee1111"/>
<polygon points="533.10,366.34 534.90,369.94 531.30,369.94" fill="#ee1111"/>
<polygon points="529.60,369.54 531.40,373.14 527.80,373.14" fill="#ee1111"/>
<polygon points="537.50,369.54 539.30,373.14 535.70,373.14" fill="#ee1111"/>
<polygon points="558.10,362.54 559.90,366.14 556.30,366.14" fill="#ee1111"/>
<polygon points="595.50,347.34 597.30,350.94 593.70,350.94" fill="#ee1111"/>
<rect x="566.10" y="361.80" width="2.6" height="2.6" fill="#0b8a4b"/>
<rect x="580.90" y="365.10" width="2.6" height="2.6" fill="#0b8a4b"/>
<rect x="612.00" y="349.60" width="2.6" height="2.6" fill="#0b8a4b"/>
<rect x="615.50" y="354.30" width="2.6" height="2.6" fill="#0b8a4b"/>
<rect x="619.90" y="355.20" width="2.6" height="2.6" fill="#0b8a4b"/>
<rect x="623.00" y="355.50" width="2.6" height="2.6" fill="#0b8a4b"/>
<rect x="628.10" y="355.20" width="2.6" height="2.6" fill="#0b8a4b"/>
<circle cx="540.60" cy="334.30" r="1.6" fill="#2b3a8f"/>
<circle cx="542.20" cy="333.20" r="1.6" fill="#2b3a8f"/>
<circle cx="546.40" cy="329.90" r="1.6" fill="#2b3a8f"/>
<circle cx="549.40" cy="330.40" r="1.6" fill="#2b3a8f"/>
<circle cx="555.30" cy="332.00" r="1.6" fill="#2b3a8f"/>
<circle cx="559.00" cy="328.00" r="1.6" fill="#2b3a8f"/>
<circle cx="563.50" cy="330.40" r="1.6" fill="#2b3a8f"/>
<circle cx="581.50" cy="329.70" r="1.6" fill="#2b3a8f"/>
<circle cx="590.40" cy="332.70" r="1.6" fill="#2b3a8f"/>
<rect x="491.00" y="239.90" width="62.90" height="17.10" fill="#cbcbcb"/>
<rect x="555.10" y="239.90" width="52.30" height="17.10" fill="#cbcbcb"/>
<rect x="608.60" y="239.90" width="37.30" height="17.10" fill="#cbcbcb"/>
<rect x="647.10" y="239.90" width="33.20" height="17.10" fill="#cbcbcb"/>
<rect x="491.00" y="258.50" width="62.90" height="13.50" fill="#efefef"/>
<rect x="555.10" y="258.50" width="52.30" height="13.50" fill="#efefef"/>
<rect x="608.60" y="258.50" width="37.30" height="13.50" fill="#efefef"/>
<rect x="647.10" y="258.50" width="33.20" height="13.50" fill="#efefef"/>
<rect x="491.00" y="273.00" width="62.90" height="13.20" fill="#e2e2e2"/>
<rect x="555.10" y="273.00" width="52.30" height="13.20" fill="#e2e2e2"/>
<rect x="608.60" y="273.00" width="37.30" height="13.20" fill="#e2e2e2"/>
<rect x="647.10" y="273.00" width="33.20" height="13.20" fill="#e2e2e2"/>
<rect x="491.00" y="287.30" width="62.90" height="13.20" fill="#efefef"/>
<rect x="555.10" y="287.30" width="52.30" height="13.20" fill="#efefef"/>
<rect x="608.60" y="287.30" width="37.30" height="13.20" fill="#efefef"/>
<rect x="647.10" y="287.30" width="33.20" height="13.20" fill="#efefef"/>
<text transform="translate(522.75 251.45)" font-family="Liberation Sans" font-size="8.6" font-weight="bold" fill="#111" text-anchor="middle" stroke="#111" stroke-width="0.25" >pairgroup</text>
<text x="581.25" y="251.45" font-family="Liberation Sans" font-size="8.6" text-anchor="middle" fill="#111"><tspan font-weight="bold">adonis</tspan><tspan fill="#333" font-size="10">(</tspan><tspan font-style="italic" fill="#333" font-size="9.6">R</tspan><tspan font-size="6.2" dy="-4" fill="#333">2</tspan><tspan dy="4" fill="#333" font-size="10">)</tspan></text>
<text transform="translate(627.25 251.45)" font-family="Liberation Sans" font-size="8.6" font-weight="bold" fill="#111" text-anchor="middle" stroke="#111" stroke-width="0.25" >p.value</text>
<text transform="translate(663.40 251.45)" font-family="Liberation Sans" font-size="8.6" font-weight="bold" fill="#111" text-anchor="middle" stroke="#111" stroke-width="0.25" >p.adj</text>
<text transform="translate(522.75 268.25)" font-family="Liberation Sans" font-size="8.6" font-weight="bold" fill="#111" text-anchor="middle" stroke="#111" stroke-width="0.25" >T2DM.vs.PRO</text>
<text transform="translate(581.25 268.25)" font-family="Liberation Sans" font-size="8.6" font-weight="normal" fill="#222" text-anchor="middle" >0.274</text>
<text transform="translate(627.25 268.25)" font-family="Liberation Sans" font-size="8.6" font-weight="normal" fill="#222" text-anchor="middle" >0.003</text>
<text transform="translate(663.40 268.25)" font-family="Liberation Sans" font-size="8.6" font-weight="bold" fill="#f01010" text-anchor="middle" stroke="#f01010" stroke-width="0.25" font-style="italic">0.0030</text>
<text transform="translate(522.75 282.60)" font-family="Liberation Sans" font-size="8.6" font-weight="bold" fill="#111" text-anchor="middle" stroke="#111" stroke-width="0.25" >T2DM.vs.CTL</text>
<text transform="translate(581.25 282.60)" font-family="Liberation Sans" font-size="8.6" font-weight="normal" fill="#222" text-anchor="middle" >0.311</text>
<text transform="translate(627.25 282.60)" font-family="Liberation Sans" font-size="8.6" font-weight="normal" fill="#222" text-anchor="middle" >0.001</text>
<text transform="translate(663.40 282.60)" font-family="Liberation Sans" font-size="8.6" font-weight="bold" fill="#f01010" text-anchor="middle" stroke="#f01010" stroke-width="0.25" font-style="italic">0.0015</text>
<text transform="translate(522.75 296.90)" font-family="Liberation Sans" font-size="8.6" font-weight="bold" fill="#111" text-anchor="middle" stroke="#111" stroke-width="0.25" >PRO.vs.CTL</text>
<text transform="translate(581.25 296.90)" font-family="Liberation Sans" font-size="8.6" font-weight="normal" fill="#222" text-anchor="middle" >0.395</text>
<text transform="translate(627.25 296.90)" font-family="Liberation Sans" font-size="8.6" font-weight="normal" fill="#222" text-anchor="middle" >0.001</text>
<text transform="translate(663.40 296.90)" font-family="Liberation Sans" font-size="8.6" font-weight="bold" fill="#f01010" text-anchor="middle" stroke="#f01010" stroke-width="0.25" font-style="italic">0.0015</text>
<text transform="translate(585.60 425.80)" font-family="Liberation Sans" font-size="10" font-weight="bold" fill="#111" text-anchor="middle" stroke="#111" stroke-width="0.25" >PCoA1: 25.65%</text>
<text transform="translate(457.60 318.40) rotate(-90)" font-family="Liberation Sans" font-size="10" font-weight="bold" fill="#111" text-anchor="middle" stroke="#111" stroke-width="0.25" >PCoA2: 23.38%</text>
<circle cx="530.20" cy="390.90" r="1.6" fill="#2b3a8f"/>
<text transform="translate(544.00 393.70)" font-family="Liberation Sans" font-size="8.2" font-weight="bold" fill="#111" text-anchor="start" stroke="#111" stroke-width="0.25" >CTL</text>
<polygon points="574.20,388.74 576.00,392.34 572.40,392.34" fill="#ee1111"/>
<text transform="translate(588.60 393.70)" font-family="Liberation Sans" font-size="8.2" font-weight="bold" fill="#111" text-anchor="start" stroke="#111" stroke-width="0.25" >T2DM</text>
<rect x="622.90" y="389.60" width="2.6" height="2.6" fill="#0b8a4b"/>
<text transform="translate(638.40 393.70)" font-family="Liberation Sans" font-size="8.2" font-weight="bold" fill="#111" text-anchor="start" stroke="#111" stroke-width="0.25" >PRO</text>
</svg>
</body></html>
